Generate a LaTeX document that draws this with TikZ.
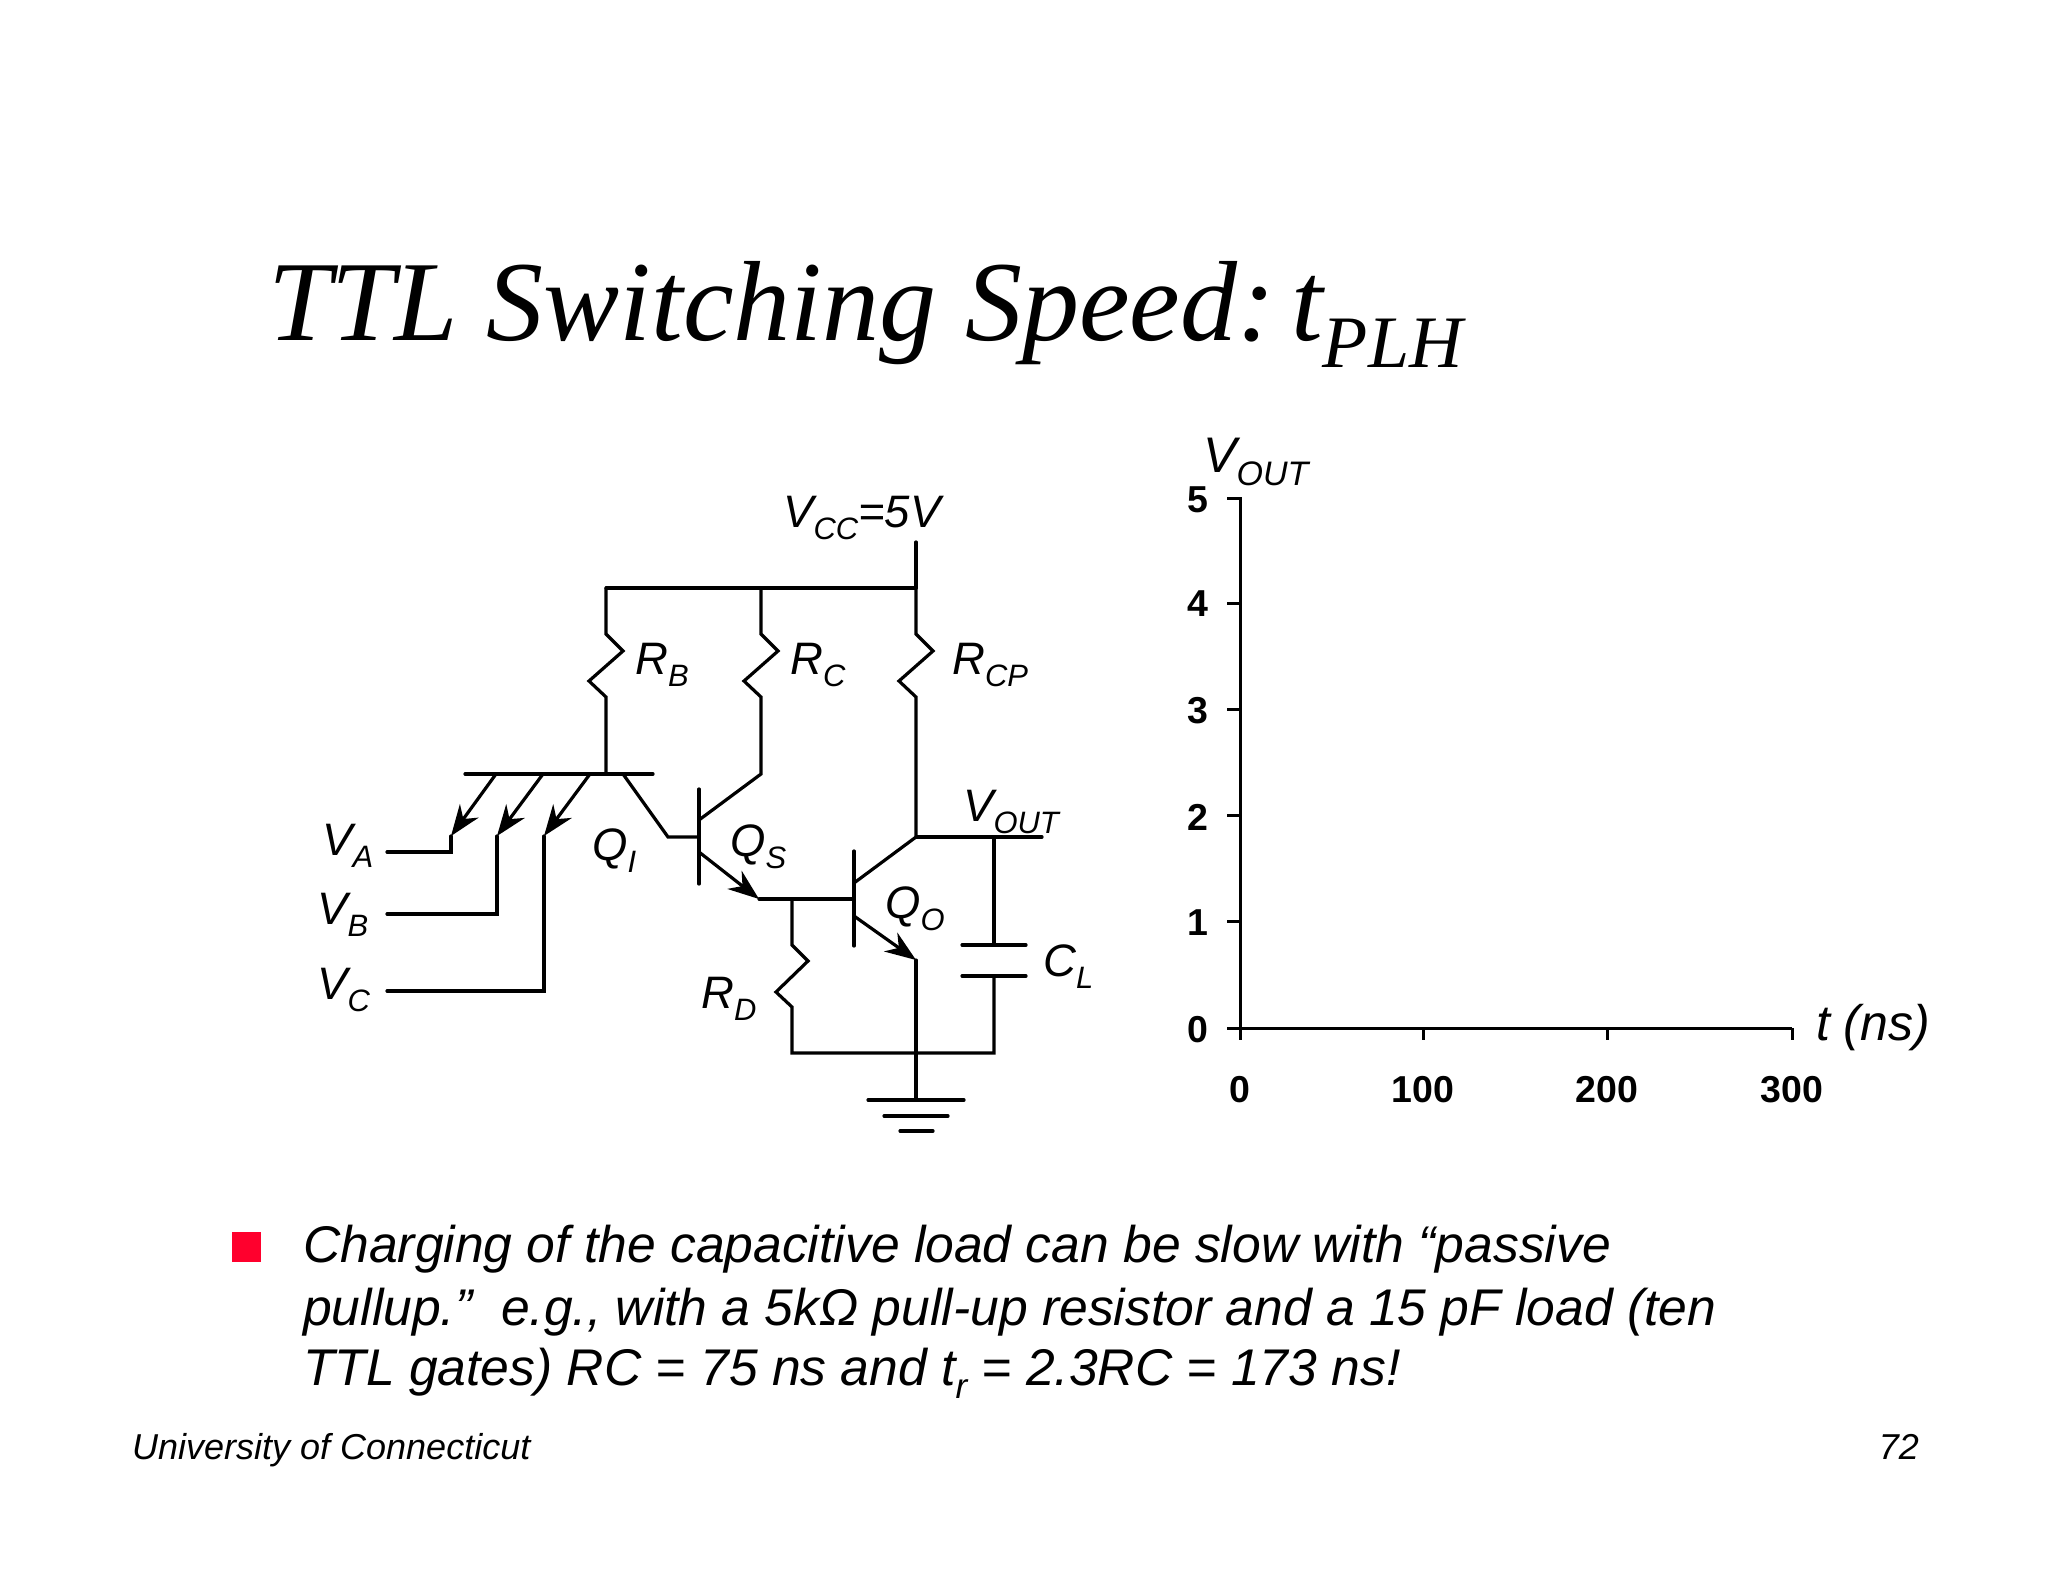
\documentclass[tikz,border=0pt]{standalone}
\usepackage{fontspec}
\setmainfont{Liberation Sans}
\newfontfamily\serifit{Liberation Serif}
\usetikzlibrary{arrows.meta}
\tikzset{x=1pt,y=-1pt,
 wire/.style={line width=3.2pt,line join=miter,line cap=round},
 axisline/.style={line width=3pt},
 emit/.style={wire,-{Stealth[length=31pt,width=23pt,inset=10pt]}},
 lab/.style={inner sep=0pt,font=\fontsize{45.5}{50}\selectfont\itshape,anchor=base west},
 biglab/.style={inner sep=0pt,font=\fontsize{50}{55}\selectfont\itshape,anchor=base west},
 ticklab/.style={inner sep=0pt,font=\fontsize{37.5}{42}\selectfont\bfseries},
 body/.style={inner sep=0pt,font=\fontsize{51.6}{60}\selectfont\itshape,anchor=base west}}
\newcommand{\sub}[1]{\raisebox{-.27em}{\fontsize{\the\dimexpr0.68em\relax}{10pt}\selectfont #1}}
\begin{document}
\begin{tikzpicture}
\useasboundingbox (0,0) rectangle (2048,1582);
\fill[white] (0,0) rectangle (2048,1582);
\node[inner sep=0pt,anchor=base west,font=\fontsize{114}{125}\selectfont\serifit\itshape] (title) at (268,340) {TTL Switching Speed:\kern16pt t\raisebox{-27pt}{\fontsize{74}{80}\selectfont PLH}};
% coordinates
\coordinate (topL) at (606,588); \coordinate (topM) at (761,588); \coordinate (topR) at (916,588);
\coordinate (vccT) at (916,542);
\coordinate (barL) at (465,774); \coordinate (barR) at (653,774); \coordinate (barJ) at (606,774);
\coordinate (outJ) at (916,837); \coordinate (outE) at (1042,837); \coordinate (capJ) at (994,837);
\coordinate (gndJ) at (916,1053); \coordinate (gndT) at (916,1100);
\coordinate (qsB) at (699,837); \coordinate (qoB) at (854,899); \coordinate (sJ) at (759,899); \coordinate (rdT) at (792,899);
\coordinate (qoE) at (916,960); \coordinate (capT) at (994,945); \coordinate (capB) at (994,976);
\coordinate (rdB) at (792,1053); \coordinate (capG) at (994,1053);
\draw[wire] (topL) -- (topM) -- (topR);
\draw[wire] (vccT) -- (topR);
\draw[wire] (topL) -- ++(0,46) -- ++(17,17) -- ++(-34,30) -- ++(17,16) -- (barJ);
\draw[wire] (topM) -- ++(0,46) -- ++(17,17) -- ++(-34,30) -- ++(17,16) -- (761,774) -- (699,820);
\draw[wire] (topR) -- ++(0,46) -- ++(17,17) -- ++(-34,30) -- ++(17,16) -- (outJ) -- (854,883);
\draw[wire] (barL) -- (barR);
\draw[emit] (496,774) -- (451,836);
\draw[emit] (543,774) -- (497,836);
\draw[emit] (590,774) -- (544,836);
\draw[wire] (451,836) -- (451,852) -- (387,852);
\draw[wire] (497,836) -- (497,914) -- (387,914);
\draw[wire] (544,836) -- (544,991) -- (387,991);
\draw[wire] (623,774) -- (668,837) -- (qsB);
\draw[wire] (699,789) -- (699,884);
\draw[emit] (699,852) -- (sJ);
\draw[wire] (sJ) -- (qoB);
\draw[wire] (854,851) -- (854,946);
\draw[emit] (854,916) -- (qoE);
\draw[wire] (qoE) -- (gndJ) -- (gndT);
\draw[wire] (outJ) -- (outE);
\draw[wire] (capJ) -- (capT);
\draw[wire] (962,945) -- (1026,945);
\draw[wire] (962,976) -- (1026,976);
\draw[wire] (capB) -- (capG) -- (rdB) -- (792,1007) -- (776,992) -- (808,961) -- (792,945) -- (rdT);
\draw[wire] (868,1100) -- (964,1100);
\draw[wire] (884,1116) -- (948,1116);
\draw[wire] (900,1131) -- (933,1131);
% circuit labels
\node[lab] (vcc) at (783,527) {V\sub{CC}=5V};
\node[lab] (rb) at (635,674) {R\sub{B}};
\node[lab] (rc) at (790,674) {R\sub{C}};
\node[lab] (rcp) at (952,674) {R\sub{CP}};
\node[lab] (vout) at (963,821) {V\sub{OUT}};
\node[lab] (va) at (322,855) {V\sub{A}};
\node[lab] (vb) at (317,924) {V\sub{B}};
\node[lab] (vc) at (317,999) {V\sub{C}};
\node[lab] (qi) at (592,860) {Q\sub{I}};
\node[lab] (qs) at (730,856) {Q\sub{S}};
\node[lab] (qo) at (885,918) {Q\sub{O}};
\node[lab] (rd) at (701,1008) {R\sub{D}};
\node[lab] (cl) at (1043,976) {C\sub{L}};
% chart
\coordinate (o) at (1240,1028); \coordinate (yt) at (1240,498); \coordinate (xe) at (1792,1028);
\draw[axisline] (1227,498) -- (yt) -- (o) -- (xe);
\foreach \y in {603,709,815,921,1028} \draw[axisline] (1227,\y) -- (1240,\y);
\foreach \x in {1240,1423,1607,1792} \draw[axisline] (\x,1028) -- (\x,1040);
\foreach \y/\t in {500/5,604/4,711/3,817/2,923/1,1030/0} \node[ticklab] (yl\t) at (1198,\y) {\t};
\foreach \x/\t in {1240/0,1423/100,1607/200,1792/300} \node[ticklab] (xl\t) at (\x,1090) {\t};
\node[biglab] (voutb) at (1203,472) {V\sub{OUT}};
\node[biglab] (tns) at (1816,1040) {t (ns)};
% bullet
\fill[fill={rgb,255:red,255;green,0;blue,45}] (232,1232) rectangle (261,1262);
\node[body] (l1) at (303,1262) {Charging of the capacitive load can be slow with “passive};
\node[body] (l2) at (303,1325) {pullup.”\ \ e.g., with a 5kΩ pull-up resistor and a 15 pF load (ten};
\node[body] (l3) at (303,1385) {TTL gates) RC = 75 ns and t\sub{r} = 2.3RC = 173 ns!};
\node[inner sep=0pt,anchor=base west,font=\fontsize{36}{40}\selectfont\itshape] (uc) at (132,1459) {University of Connecticut};
\node[inner sep=0pt,anchor=base east,font=\fontsize{36}{40}\selectfont\itshape] (pg) at (1919,1459) {72};
\end{tikzpicture}
\end{document}
